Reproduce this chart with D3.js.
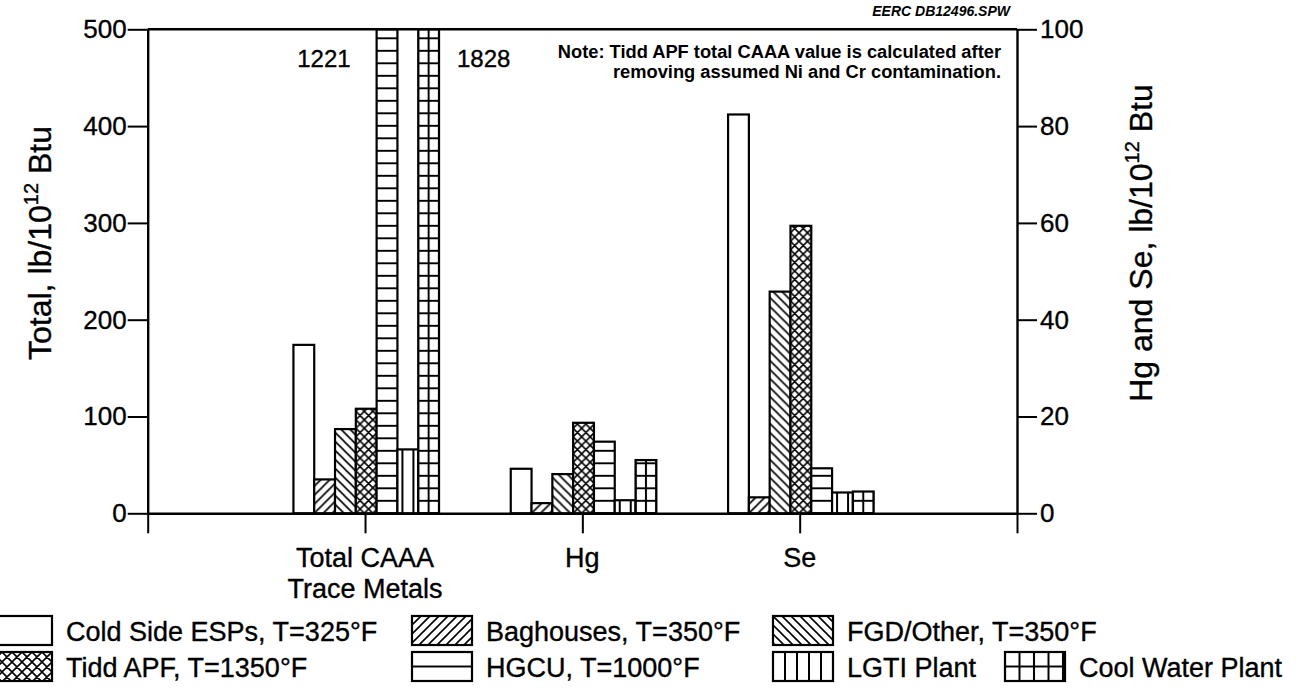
<!DOCTYPE html>
<html>
<head>
<meta charset="utf-8">
<script src="https://cdn.jsdelivr.net/npm/d3@7"></script>
<style>
  html, body { margin: 0; padding: 0; background: #fff; }
  svg { display: block; }
  text { font-family: "Liberation Sans", Arial, Helvetica, sans-serif; fill: #000; stroke: #000; stroke-width: 0.35px; }
</style>
</head>
<body>
<svg id="chart" width="1306" height="688"></svg>
<script>
// ---------------- data ----------------
const categories = [["Total CAAA", "Trace Metals"], ["Hg"], ["Se"]];
const seriesNames = [
  "Cold Side ESPs, T=325°F",
  "Baghouses, T=350°F",
  "FGD/Other, T=350°F",
  "Tidd APF, T=1350°F",
  "HGCU, T=1000°F",
  "LGTI Plant",
  "Cool Water Plant"
];
const seriesPatterns = ["none", "fwd", "back", "cross", "horiz", "vert", "grid"];
// Total CAAA trace metals (left axis, lb/10^12 Btu)
const totalCAAA = [174, 35, 87, 108, 1221, 66, 1828];
// Hg and Se (right axis, lb/10^12 Btu)
const hgValues = [9.2, 2.1, 8.1, 18.7, 14.8, 2.7, 11.0];
const seValues = [82.4, 3.3, 45.8, 59.4, 9.3, 4.3, 4.5];
const leftTicks = [0, 100, 200, 300, 400, 500];
const rightTicks = [0, 20, 40, 60, 80, 100];
const leftTitle = ["Total, lb/10", "12", " Btu"];
const rightTitle = ["Hg and Se, lb/10", "12", " Btu"];
const noteLines = [
  "Note: Tidd APF total CAAA value is calculated after",
  "removing assumed Ni and Cr contamination."
];
const fileTag = "EERC DB12496.SPW";

// ---------------- layout ----------------
const svg = d3.select("#chart");
const X0 = 147.7, X1 = 1017, Y0 = 513.3, Y1 = 29.3;
const x = d3.scaleLinear().domain([0, 4]).range([X0, X1]);
const yL = d3.scaleLinear().domain([0, 500]).range([Y0, Y1]).clamp(true);
const yR = d3.scaleLinear().domain([0, 100]).range([Y0, Y1]).clamp(true);
const bw = 20.8;
const groupData = [
  { values: totalCAAA, scale: yL },
  { values: hgValues, scale: yR },
  { values: seValues, scale: yR }
];

const defs = svg.append("defs");
let patCount = 0;
function makePattern(type, ox, oy, opts = {}) {
  if (type === "none") return "#fff";
  const id = "p" + (patCount++);
  let w, h, d;
  if (type === "fwd") { w = h = opts.s || 9; d = `M0,${h} L${w},0 M-2,2 L2,-2 M${w - 2},${h + 2} L${w + 2},${h - 2}`; }
  else if (type === "back") { w = h = opts.s || 9; d = `M0,0 L${w},${h} M-2,${h - 2} L2,${h + 2} M${w - 2},-2 L${w + 2},2`; }
  else if (type === "cross") { w = h = opts.s || 8.5;
    d = `M0,${h} L${w},0 M-2,2 L2,-2 M${w - 2},${h + 2} L${w + 2},${h - 2} M0,0 L${w},${h} M-2,${h - 2} L2,${h + 2} M${w - 2},-2 L${w + 2},2`; }
  else if (type === "horiz") { w = 10; h = opts.h || 12.5; d = `M-1,0 L${w + 1},0 M-1,${h} L${w + 1},${h}`; }
  else if (type === "vert") { w = opts.w || 12; h = 10; d = `M0,-1 L0,${h + 1} M${w},-1 L${w},${h + 1}`; }
  else if (type === "grid") { w = opts.w || 10.4; h = opts.h || 12.5;
    d = `M-1,0 L${w + 1},0 M-1,${h} L${w + 1},${h} M0,-1 L0,${h + 1} M${w},-1 L${w},${h + 1}`; }
  const p = defs.append("pattern").attr("id", id)
    .attr("patternUnits", "userSpaceOnUse")
    .attr("width", w).attr("height", h)
    .attr("patternTransform", `translate(${ox},${oy})`);
  p.append("rect").attr("width", w).attr("height", h).attr("fill", "#fff");
  p.append("path").attr("d", d).attr("stroke", "#000")
    .attr("stroke-width", (type === "horiz" || type === "grid" || type === "vert") ? 2 : 1.6)
    .attr("fill", "none");
  return `url(#${id})`;
}

// ---------------- bars ----------------
const barsG = svg.append("g");
groupData.forEach((g, gi) => {
  const cx = x(gi + 1) + 1.2;
  g.values.forEach((v, si) => {
    const bx = cx - 3.5 * bw + si * bw;
    const top = g.scale(v);
    const type = seriesPatterns[si];
    let fill;
    if (type === "grid") fill = makePattern(type, bx, Y0, { w: bw / 2 });
    else if (type === "vert") fill = makePattern(type, bx + 5, Y0, { w: 11 });
    else fill = makePattern(type, bx, Y0);
    barsG.append("rect")
      .attr("x", bx).attr("y", top)
      .attr("width", bw).attr("height", Y0 - top)
      .attr("fill", fill)
      .attr("stroke", "#000").attr("stroke-width", 2.2);
    // off-scale value labels
    if (g.scale === yL && v > 500) {
      const right = si === seriesNames.length - 1;
      barsG.append("text")
        .attr("x", right ? bx + bw + 18 : bx - 26)
        .attr("y", 67)
        .attr("text-anchor", right ? "start" : "end")
        .attr("font-size", 24)
        .text(v);
    }
  });
});

// ---------------- axes ----------------
const axisStroke = 2.4;
const leftAxis = svg.append("g").attr("transform", `translate(${X0},0)`)
  .call(d3.axisLeft(yL).tickValues(leftTicks).tickSize(20).tickSizeOuter(0).tickPadding(1));
const rightAxis = svg.append("g").attr("transform", `translate(${X1},0)`)
  .call(d3.axisRight(yR).tickValues(rightTicks).tickSize(20).tickSizeOuter(0).tickPadding(3));
const bottomAxis = svg.append("g").attr("transform", `translate(0,${Y0})`)
  .call(d3.axisBottom(x).tickValues([0, 1, 2, 3, 4]).tickSize(20).tickSizeOuter(0).tickFormat(""));
[leftAxis, rightAxis, bottomAxis].forEach(a => {
  a.selectAll("path.domain").attr("stroke", "#000").attr("stroke-width", axisStroke);
  a.selectAll(".tick line").attr("stroke", "#000").attr("stroke-width", 2);
  a.selectAll(".tick text").attr("font-size", 26).attr("fill", "#000")
    .attr("font-family", '"Liberation Sans", Arial, sans-serif');
});
// top frame line
svg.append("line").attr("x1", X0).attr("x2", X1).attr("y1", Y1).attr("y2", Y1)
  .attr("stroke", "#000").attr("stroke-width", axisStroke);

// category labels
categories.forEach((lines, i) => {
  lines.forEach((ln, k) => {
    svg.append("text").attr("x", x(i + 1)).attr("y", 567 + k * 31)
      .attr("text-anchor", "middle").attr("font-size", 27).text(ln);
  });
});

// axis titles
function title(parts, cx, cy) {
  const t = svg.append("text").attr("transform", `translate(${cx},${cy}) rotate(-90)`)
    .attr("text-anchor", "middle").attr("font-size", 32);
  t.append("tspan").text(parts[0]);
  t.append("tspan").attr("dy", -13).attr("font-size", 20).text(parts[1]);
  t.append("tspan").attr("dy", 13).text(parts[2]);
}
title(leftTitle, 51, 243);
title(rightTitle, 1152, 243);

// note & file tag
noteLines.forEach((ln, i) => {
  svg.append("text").attr("x", 1001).attr("y", 58 + i * 20)
    .attr("text-anchor", "end").attr("font-size", 18.3).attr("font-weight", "bold")
    .style("stroke-width", "0px").text(ln);
});
svg.append("text").attr("x", 1010).attr("y", 16).attr("text-anchor", "end")
  .attr("font-size", 14).attr("font-weight", "bold").attr("font-style", "italic")
  .style("stroke-width", "0px").text(fileTag);

// ---------------- legend ----------------
const legendPos = [[0, 0], [1, 0], [2, 0], [0, 1], [1, 1], [2, 1], [3, 1]];
const colSwatchX = [-8, 412, 773, 1005];
const rowY = [616, 652];
seriesNames.forEach((name, si) => {
  const [c, r] = legendPos[si];
  const sx = colSwatchX[c], sy = rowY[r], sw = 60, sh = 29;
  const type = seriesPatterns[si];
  let fill;
  if (type === "horiz") fill = makePattern(type, sx, sy, { h: sh / 2 });
  else if (type === "vert") fill = makePattern(type, sx, sy, { w: sw / 5 });
  else if (type === "grid") fill = makePattern(type, sx, sy, { w: (sw - 2) / 4, h: sh / 2 });
  else if (type === "cross") fill = makePattern(type, sx, sy, { s: 10 });
  else fill = makePattern(type, sx, sy);
  svg.append("rect").attr("x", sx).attr("y", sy).attr("width", sw).attr("height", sh)
    .attr("fill", fill).attr("stroke", "#000").attr("stroke-width", 2.2);
  svg.append("text").attr("x", sx + sw + 14).attr("y", sy + sh / 2 + 10)
    .attr("font-size", 27).text(name);
});
</script>
</body>
</html>
